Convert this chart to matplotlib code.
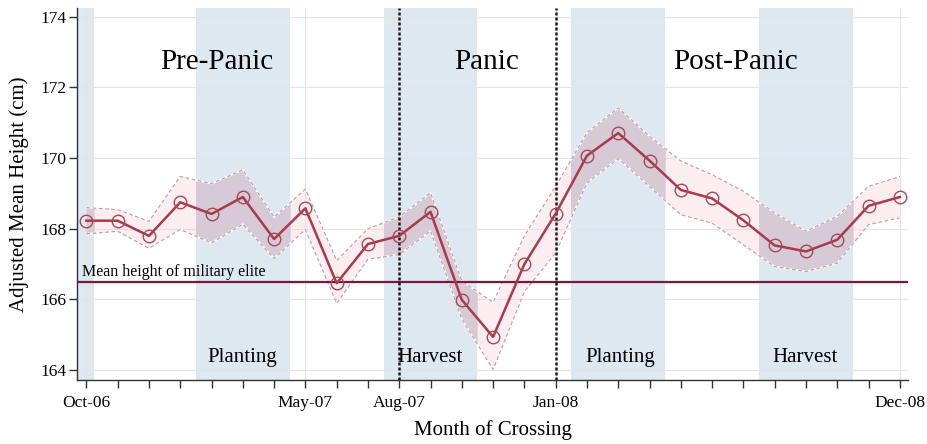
import matplotlib
matplotlib.use("Agg")
import matplotlib.pyplot as plt

plt.rcParams['font.family'] = ['Liberation Serif', 'DejaVu Serif']

# Data (one point per month, Oct-06 .. Dec-08)
months = ['Oct-06', 'Nov-06', 'Dec-06', 'Jan-07', 'Feb-07', 'Mar-07', 'Apr-07',
          'May-07', 'Jun-07', 'Jul-07', 'Aug-07', 'Sep-07', 'Oct-07', 'Nov-07',
          'Dec-07', 'Jan-08', 'Feb-08', 'Mar-08', 'Apr-08', 'May-08', 'Jun-08',
          'Jul-08', 'Aug-08', 'Sep-08', 'Oct-08', 'Nov-08', 'Dec-08']
height = [168.23, 168.23, 167.80, 168.75, 168.42, 168.90, 167.71, 168.58, 166.46,
          167.57, 167.80, 168.48, 165.99, 164.94, 167.00, 168.43, 170.07, 170.71,
          169.93, 169.10, 168.86, 168.24, 167.53, 167.36, 167.69, 168.65, 168.90]
upper = [168.60, 168.54, 168.21, 169.48, 169.28, 169.67, 168.33, 169.12, 167.10,
         168.00, 168.34, 169.02, 166.52, 165.92, 167.80, 169.20, 170.72, 171.42,
         170.62, 169.92, 169.53, 169.06, 168.45, 167.93, 168.35, 169.20, 169.48]
lower = [167.86, 167.93, 167.45, 167.98, 167.60, 168.13, 167.16, 167.98, 165.89,
         167.14, 167.27, 167.94, 165.45, 164.02, 166.22, 167.32, 169.30, 169.99,
         169.20, 168.40, 168.16, 167.55, 166.93, 166.79, 167.03, 168.12, 168.31]
elite_mean = 166.5
elite_label = 'Mean height of military elite'

tick_months = ['Oct-06', 'May-07', 'Aug-07', 'Jan-08', 'Dec-08']
break_months = ['Aug-07', 'Jan-08']

# Planting / harvest seasons, in month units from Oct-06
season_start = [-1.0, 3.5, 9.5, 15.5, 21.5]
season_end = [0.25, 6.5, 12.5, 18.5, 24.5]
season_labels = ['Planting', 'Harvest', 'Planting', 'Harvest']
period_labels = ['Pre-Panic', 'Panic', 'Post-Panic']


x = list(range(len(months)))

fig = plt.figure(figsize=(9.28, 4.44), dpi=100)
ax = fig.add_axes([0.0833, 0.1441, 0.8951, 0.8379])

# Seasons (blue) and the CI band, darker where they overlap
ax.fill_between(x, lower, upper, color='#f6d6dc', alpha=0.42, lw=0, zorder=2)
for s, e in zip(season_start, season_end):
    span = ax.axvspan(s, e, color='#dde8f1', lw=0, zorder=0.2)
    over = ax.fill_between(x, lower, upper, color='#b9a3b6', alpha=0.35, lw=0, zorder=2.1)
    over.set_clip_path(span)

for bound in (upper, lower):
    ax.plot(x, bound, color='white', lw=1.3, zorder=2.2)
    ax.plot(x, bound, color='#c4a0a8', lw=0.9, ls=(0, (3, 2)), zorder=2.3)

ax.axhline(elite_mean, color='#7d1638', lw=1.6, zorder=3)
ax.text(-0.15, 166.67, elite_label, fontsize=11.5, va='baseline', ha='left', zorder=5)

for m in break_months:
    ax.axvline(months.index(m), color='#1a1a1a', lw=1.8, ls=(0, (1.2, 0.8)), zorder=3.5)

ax.plot(x, height, color='#a83a4a', lw=1.8, marker='o', ms=9, mfc='none',
        mec='#a34a58', mew=1.0, zorder=4)

# Text labels
for label, xpos in zip(period_labels, [4.16, 12.78, 20.75]):
    ax.text(xpos, 172.51, label, fontsize=21, ha='center', va='baseline', zorder=5)
for label, xpos in zip(season_labels, [4.97, 10.97, 17.06, 22.97]):
    ax.text(xpos, 164.24, label, fontsize=15, ha='center', va='baseline', zorder=5)

# Axes
ax.set_xlim(-0.29, 26.26)
ax.set_ylim(163.72, 174.25)
ax.set_xticks([months.index(m) for m in tick_months])
ax.set_xticklabels(tick_months, fontsize=12.5)
ax.set_xticks(x, minor=True)
ax.set_yticks([164, 166, 168, 170, 172, 174])
ax.tick_params(axis='y', labelsize=12.5)
ax.tick_params(which='both', direction='out', length=6, width=1, color='#333333', pad=2)
ax.tick_params(axis='x', pad=5)

ax.set_axisbelow(True)
ax.grid(True, which='major', color='#e4e4e4', lw=0.8)

for side in ('top', 'right'):
    ax.spines[side].set_visible(False)
for side in ('left', 'bottom'):
    ax.spines[side].set_color('#333333')
    ax.spines[side].set_linewidth(1)

ax.set_ylabel('Adjusted Mean Height (cm)', fontsize=15, labelpad=8)
ax.set_xlabel('Month of Crossing', fontsize=15, labelpad=6)

fig.savefig('out.png', dpi=100)
